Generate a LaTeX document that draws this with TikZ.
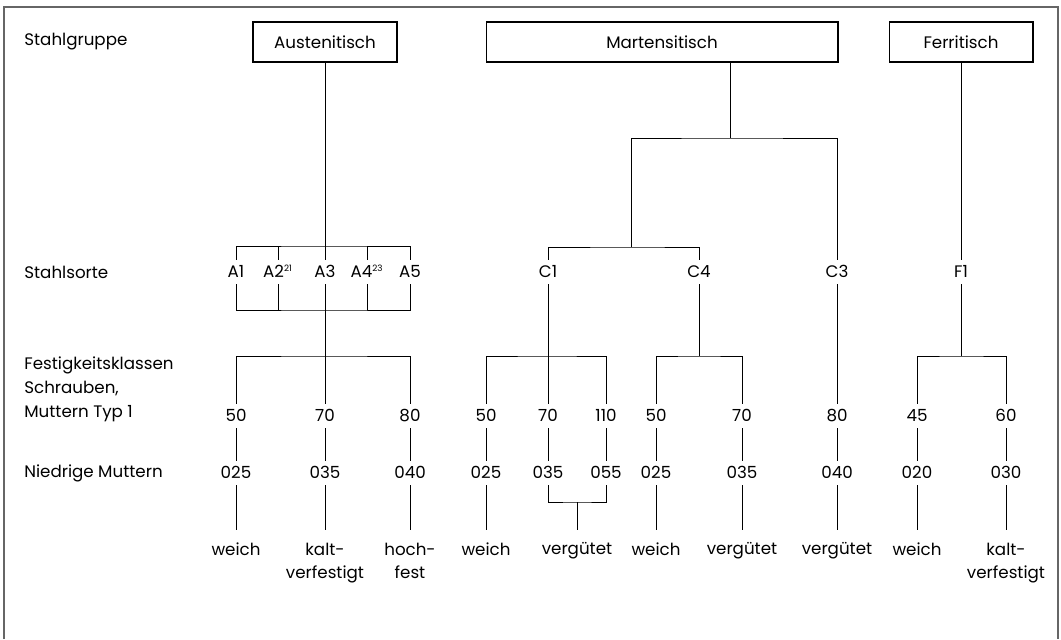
\documentclass[tikz,border=0pt]{standalone}
\usepackage{fontspec}
\setmainfont{Poppins}
\usetikzlibrary{positioning, calc}

\begin{document}
\begin{tikzpicture}[
    x=0.02cm, y=-0.02cm,
    every node/.style={font=\fontsize{9.5pt}{13.6pt}\selectfont},
    group/.style={draw, rectangle, line width=0.6pt, minimum height=0.8cm, inner sep=2pt},
    lbl/.style={inner xsep=1pt, inner ysep=3.4pt, text height=6.8pt, text depth=0pt},
    prop/.style={anchor=north, align=center, inner xsep=1pt, inner ysep=7pt},
    row/.style={anchor=west, align=left, inner sep=0pt},
    link/.style={line width=0.55pt},
    frame/.style={line width=1pt, draw=black!60}
]
\useasboundingbox (0,0) rectangle (1061,639);

% Frame (open at the bottom)
\draw[frame] (4,639) -- (4,7) -- (1058,7) -- (1058,639);

% Row titles
\node[row] (t1) at (24,42) {Stahlgruppe};
\node[row] (t2) at (24,272) {Stahlsorte};
\node[row] (t3) at (24,389) {Festigkeitsklassen\\Schrauben,\\Muttern Typ 1};
\node[row] (t4) at (24,473) {Niedrige Muttern};

% Steel groups
\node[group, minimum width=2.88cm] (aus) at (325,42) {Austenitisch};
\node[group, minimum width=7.04cm] (mar) at (662,42) {Martensitisch};
\node[group, minimum width=2.88cm] (fer) at (961,42) {Ferritisch};

% Steel grades
\node[lbl] (A1) at (236,272) {A1};
\node[lbl] (A2) at (278,272) {A2\textsuperscript{\fontsize{5pt}{5pt}\selectfont 21}};
\node[lbl] (A3) at (325,272) {A3};
\node[lbl] (A4) at (367,272) {A4\textsuperscript{\fontsize{5pt}{5pt}\selectfont 23}};
\node[lbl] (A5) at (410,272) {A5};
\node[lbl] (C1) at (548,272) {C1};
\node[lbl] (C4) at (699,272) {C4};
\node[lbl] (C3) at (837,272) {C3};
\node[lbl] (F1) at (961,272) {F1};

% Strength classes, bolts and nuts type 1
\node[lbl] (k1) at (236,416) {50};
\node[lbl] (k2) at (325,416) {70};
\node[lbl] (k3) at (410,416) {80};
\node[lbl] (k4) at (486,416) {50};
\node[lbl] (k5) at (548,416) {70};
\node[lbl] (k6) at (606,416) {110};
\node[lbl] (k7) at (656,416) {50};
\node[lbl] (k8) at (742,416) {70};
\node[lbl] (k9) at (837,416) {80};
\node[lbl] (k10) at (917,416) {45};
\node[lbl] (k11) at (1006,416) {60};

% Thin nuts
\node[lbl] (m1) at (236,473) {025};
\node[lbl] (m2) at (325,473) {035};
\node[lbl] (m3) at (410,473) {040};
\node[lbl] (m4) at (486,473) {025};
\node[lbl] (m5) at (548,473) {035};
\node[lbl] (m6) at (606,473) {055};
\node[lbl] (m7) at (656,473) {025};
\node[lbl] (m8) at (742,473) {035};
\node[lbl] (m9) at (837,473) {040};
\node[lbl] (m10) at (917,473) {020};
\node[lbl] (m11) at (1006,473) {030};

% Condition
\node[prop] (p1) at (236,530) {weich};
\node[prop] (p2) at (325,530) {kalt-\\verfestigt};
\node[prop] (p3) at (410,530) {hoch-\\fest};
\node[prop] (p4) at (486,530) {weich};
\node[prop] (p5) at (577,530) {vergütet};
\node[prop] (p7) at (656,530) {weich};
\node[prop] (p8) at (742,530) {vergütet};
\node[prop] (p9) at (837,530) {vergütet};
\node[prop] (p10) at (917,530) {weich};
\node[prop] (p11) at (1006,530) {kalt-\\verfestigt};

% Junctions
\coordinate (atop) at (325,246);
\coordinate (abot) at (325,310);
\coordinate (msplit) at (730,138);
\coordinate (c14) at (631,247);
\coordinate (kaus) at (325,356);
\coordinate (kc1) at (548,356);
\coordinate (kc4) at (699,356);
\coordinate (kf1) at (961,356);
\coordinate (jn) at (577,502);

% Austenitic branch
\draw[link] (aus.south) -- (A3.north);
\draw[link] (A1.north) |- (atop) -| (A5.north);
\draw[link] (A2.north) -- (A2.north |- atop);
\draw[link] (A4.north) -- (A4.north |- atop);
\draw[link] (A1.south) |- (abot) -| (A5.south);
\draw[link] (A2.south) -- (A2.south |- abot);
\draw[link] (A4.south) -- (A4.south |- abot);
\draw[link] (A3.south) -- (k2.north);
\draw[link] (k1.north) |- (kaus) -| (k3.north);

% Martensitic branch
\draw[link] (mar.south -| msplit) -- (msplit);
\draw[link] (c14) |- (msplit) -| (C3.north);
\draw[link] (C1.north) |- (c14) -| (C4.north);
\draw[link] (C1.south) -- (k5.north);
\draw[link] (k4.north) |- (kc1) -| (k6.north);
\draw[link] (C4.south) -- (kc4);
\draw[link] (k7.north) |- (kc4) -| (k8.north);
\draw[link] (C3.south) -- (k9.north);

% Ferritic branch
\draw[link] (fer.south) -- (F1.north);
\draw[link] (F1.south) -- (kf1);
\draw[link] (k10.north) |- (kf1) -| (k11.north);

% Classes to thin nuts
\draw[link] (k1) -- (m1);
\draw[link] (k2) -- (m2);
\draw[link] (k3) -- (m3);
\draw[link] (k4) -- (m4);
\draw[link] (k5) -- (m5);
\draw[link] (k6) -- (m6);
\draw[link] (k7) -- (m7);
\draw[link] (k8) -- (m8);
\draw[link] (k9) -- (m9);
\draw[link] (k10) -- (m10);
\draw[link] (k11) -- (m11);

% Thin nuts to condition
\draw[link] (m1) -- (p1);
\draw[link] (m2) -- (p2);
\draw[link] (m3) -- (p3);
\draw[link] (m4) -- (p4);
\draw[link] (m5.south) |- (jn) -| (m6.south);
\draw[link] (jn) -- (p5);
\draw[link] (m7) -- (p7);
\draw[link] (m8) -- (p8);
\draw[link] (m9) -- (p9);
\draw[link] (m10) -- (p10);
\draw[link] (m11) -- (p11);

\end{tikzpicture}
\end{document}
